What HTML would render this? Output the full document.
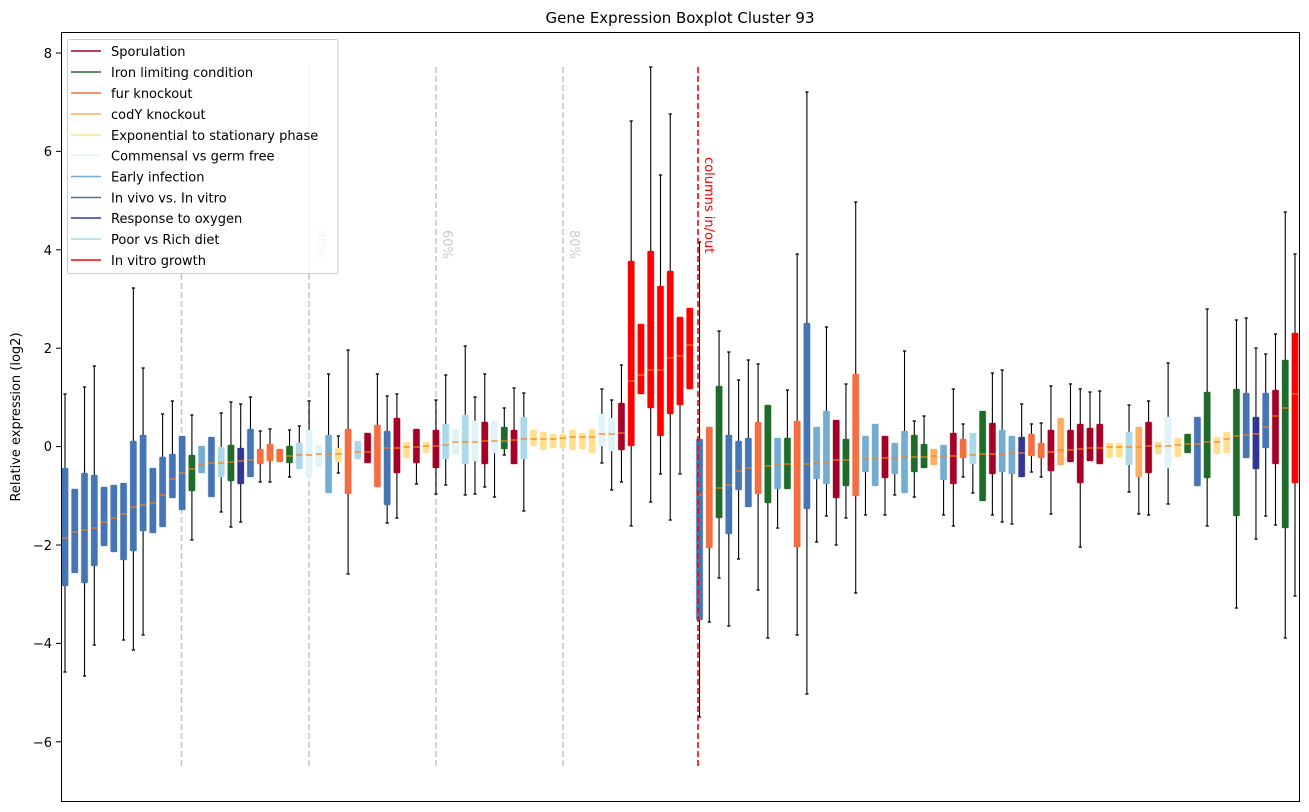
<!DOCTYPE html>
<html><head><meta charset="utf-8">
<style>html,body{margin:0;padding:0;background:#fff;}svg{display:block;font-family:"DejaVu Sans","Liberation Sans",sans-serif;}</style>
</head><body>
<svg id="s" width="1309" height="812" viewBox="0 0 1309 812" xmlns="http://www.w3.org/2000/svg">
<rect x="0" y="0" width="1309" height="812" fill="#fff"/>
<text x="680" y="23" font-size="15" text-anchor="middle" fill="#000">Gene Expression Boxplot Cluster 93</text>
<text transform="translate(20,417) rotate(-90)" font-size="13" text-anchor="middle" fill="#000">Relative expression (log2)</text>
<g stroke="#000" stroke-width="1">
<line x1="56" y1="53" x2="61" y2="53"/><line x1="56" y1="151.4" x2="61" y2="151.4"/><line x1="56" y1="249.8" x2="61" y2="249.8"/><line x1="56" y1="348.2" x2="61" y2="348.2"/><line x1="56" y1="446.6" x2="61" y2="446.6"/><line x1="56" y1="545" x2="61" y2="545"/><line x1="56" y1="643.4" x2="61" y2="643.4"/><line x1="56" y1="741.8" x2="61" y2="741.8"/>
</g>
<g font-size="13" text-anchor="end" fill="#000">
<text x="52" y="58">8</text><text x="52" y="156">6</text><text x="52" y="255">4</text><text x="52" y="353">2</text><text x="52" y="451">0</text><text x="52" y="550">−2</text><text x="52" y="648">−4</text><text x="52" y="747">−6</text>
</g>
<g stroke="#c8c8c8" stroke-width="1.6" stroke-dasharray="6,3">
<line x1="181.5" y1="67" x2="181.5" y2="767"/><line x1="309" y1="67" x2="309" y2="767"/><line x1="436" y1="67" x2="436" y2="767"/><line x1="563" y1="67" x2="563" y2="767"/>
</g>
<g font-size="13" fill="#cccccc">
<text transform="translate(189,230) rotate(90)">20%</text>
<text transform="translate(316,230) rotate(90)">40%</text>
<text transform="translate(443,230) rotate(90)">60%</text>
<text transform="translate(570,230) rotate(90)">80%</text>
</g>
<g id="boxes"></g>
<line x1="698" y1="67" x2="698" y2="767" stroke="#ff0000" stroke-width="1.6" stroke-dasharray="6,3"/>
<text transform="translate(705,157) rotate(90)" font-size="13" fill="#ff0000">columns in/out</text>
<rect x="61.5" y="32.5" width="1238" height="769" fill="none" stroke="#000" stroke-width="1"/>
<rect x="67.5" y="39.5" width="270.5" height="234" rx="2" fill="#fff" fill-opacity="0.8" stroke="#cccccc" stroke-width="1"/>
<g stroke-width="1.6">
<line x1="71" y1="51" x2="101" y2="51" stroke="#a50026"/>
<line x1="71" y1="72" x2="101" y2="72" stroke="#1f6b2a"/>
<line x1="71" y1="93" x2="101" y2="93" stroke="#f46d43"/>
<line x1="71" y1="114" x2="101" y2="114" stroke="#fdae61"/>
<line x1="71" y1="135" x2="101" y2="135" stroke="#fee090"/>
<line x1="71" y1="155.5" x2="101" y2="155.5" stroke="#e0f3f8"/>
<line x1="71" y1="176.5" x2="101" y2="176.5" stroke="#74add1"/>
<line x1="71" y1="197.5" x2="101" y2="197.5" stroke="#4575b4"/>
<line x1="71" y1="218" x2="101" y2="218" stroke="#313695"/>
<line x1="71" y1="239" x2="101" y2="239" stroke="#abd9e9"/>
<line x1="71" y1="260" x2="101" y2="260" stroke="#ff0000"/>
</g>
<g font-size="13" fill="#000">
<text x="111" y="56">Sporulation</text>
<text x="111" y="77">Iron limiting condition</text>
<text x="111" y="98">fur knockout</text>
<text x="111" y="119">codY knockout</text>
<text x="111" y="140">Exponential to stationary phase</text>
<text x="111" y="160.5">Commensal vs germ free</text>
<text x="111" y="181.5">Early infection</text>
<text x="111" y="202.5">In vivo vs. In vitro</text>
<text x="111" y="223">Response to oxygen</text>
<text x="111" y="244">Poor vs Rich diet</text>
<text x="111" y="265">In vitro growth</text>
</g>
</svg>
<script>
var C={S:"#a50026",G:"#1f6b2a",F:"#f46d43",C:"#fdae61",E:"#fee090",M:"#e0f3f8",L:"#74add1",B:"#4575b4",N:"#313695",P:"#abd9e9",R:"#ff0000"};
var n=null;
var D=[
["B",394,468,538,586,672],["B",n,489,532,573,n],["B",387,473,530,583,676],["B",366,475,528,566,645],["B",n,487,522,546,n],
["B",n,485,518,552,n],["B",n,483,514,560,640],["B",288,441,507,551,650],["B",368,435,505,531,635],["B",n,468,503,533,n],
["B",414,457,495,527,n],["B",401,454,479,498,n],["B",n,436,473,510,n],["G",415,455,469,491,540],["L",n,446,465,473,n],
["B",n,437,463,497,n],["P",413,447,463,477,512],["G",402,445,462,481,527],["N",404,448,461,484,522],["B",397,429,460,477,n],
["F",431,449,459,464,482],["F",429,444,457,461,482],["F",n,449,456,462,n],["G",430,446,456,463,477],["P",426,443,455,469,n],
["M",401,430,455,477,n],["M",n,445,454,467,n],["L",374,435,454,493,n],["E",436,448,454,462,473],["F",350,429,452,494,574],
["P",n,441,452,459,n],["S",n,433,452,463,n],["F",374,425,451,487,n],["B",396,431,448,505,523],["S",394,418,448,473,518],
["E",n,442,447,458,n],["S",n,429,447,463,484],["E",n,442,446,453,n],["S",400,430,446,468,494],["P",375,424,445,459,485],
["M",n,429,442,455,n],["P",346,415,442,464,495],["M",397,421,442,461,494],["S",374,422,441,464,487],["M",n,421,441,453,497],
["G",408,427,441,449,455],["S",388,430,440,464,n],["P",393,417,439,459,511],["E",n,430,439,446,n],["E",n,432,439,450,n],
["E",n,434,439,448,n],["E",n,434,438,448,n],["E",n,430,437,450,n],["E",n,433,437,449,n],["E",n,429,437,453,n],
["M",389,414,434,446,463],["M",400,418,434,451,490],["S",365,403,433,450,482],
["R",121,261,381,446,526],["R",n,324,375,394,n],["R",67,251,370,408,502],["R",175,286,370,436,474],["R",114,271,358,414,520],["R",n,317,356,405,474],["R",n,308,345,389,n],
["B",242,439,495,620,717],["F",n,427,492,548,622],["G",331,386,488,518,578],["B",352,435,485,534,626],["B",380,441,471,490,559],
["B",360,438,468,507,n],["F",364,422,466,494,590],["G",n,405,466,503,638],["L",n,438,465,489,528],["G",390,438,464,489,n],
["F",254,421,464,547,635],["B",92,323,464,509,694],["L",n,427,463,479,542],["L",327,411,462,484,516],["S",n,420,460,498,545],
["G",384,439,460,486,518],["F",202,374,459,496,593],["L",n,436,459,472,515],["L",n,424,459,486,n],["S",n,436,458,478,515],
["L",n,443,458,474,495],["L",351,431,457,493,n],["G",421,435,457,472,497],["G",416,444,457,468,n],["C",n,449,456,465,n],
["L",n,445,456,480,515],["S",389,433,456,484,526],["F",424,439,455,458,477],["P",n,433,455,464,493],["G",n,411,454,501,n],
["S",373,423,454,474,515],["L",370,430,454,472,522],["L",n,436,453,474,524],["N",404,437,453,477,n],["F",424,434,454,456,472],
["F",423,443,452,458,477],["S",386,430,452,471,514],["C",n,418,450,465,n],["S",384,430,450,462,n],["S",389,424,449,483,547],
["S",392,428,448,461,n],["S",391,424,448,464,n],["E",n,443,447,458,n],["E",n,443,447,457,n],["P",405,432,447,465,492],
["C",n,427,447,477,514],["S",401,422,446,473,515],["E",n,442,446,454,n],["M",363,417,446,468,504],["E",n,438,445,457,n],
["G",n,434,444,453,n],["B",n,417,444,486,n],["G",309,392,442,478,526],["E",n,437,442,454,n],["E",n,432,439,453,n],
["G",320,389,436,516,608],["B",318,393,435,458,n],["N",348,417,434,469,539],["B",354,393,427,448,516],["S",334,390,416,464,525],
["G",212,360,408,528,638],["R",254,333,394,483,596]
];
var h="";
for(var i=0;i<D.length;i++){
 var d=D[i],x=65+i*9.762,c=C[d[0]],w=6.4;
 if(d[1]!==null){h+='<line x1="'+x+'" y1="'+d[1]+'" x2="'+x+'" y2="'+d[2]+'" stroke="#000" stroke-width="1.1"/><line x1="'+(x-1.6)+'" y1="'+d[1]+'" x2="'+(x+1.6)+'" y2="'+d[1]+'" stroke="#000" stroke-width="1.3"/>';}
 if(d[5]!==null){h+='<line x1="'+x+'" y1="'+d[4]+'" x2="'+x+'" y2="'+d[5]+'" stroke="#000" stroke-width="1.1"/><line x1="'+(x-1.6)+'" y1="'+d[5]+'" x2="'+(x+1.6)+'" y2="'+d[5]+'" stroke="#000" stroke-width="1.3"/>';}
 h+='<rect x="'+(x-w/2)+'" y="'+d[2]+'" width="'+w+'" height="'+(d[4]-d[2])+'" fill="'+c+'" stroke="'+c+'" stroke-opacity="0.35" stroke-width="1" rx="1"/>';
 h+='<line x1="'+(x-w/2)+'" y1="'+d[3]+'" x2="'+(x+w/2)+'" y2="'+d[3]+'" stroke="#ff7f0e" stroke-width="1.2"/>';
}
document.getElementById("boxes").innerHTML=h;
</script>
</body></html>
